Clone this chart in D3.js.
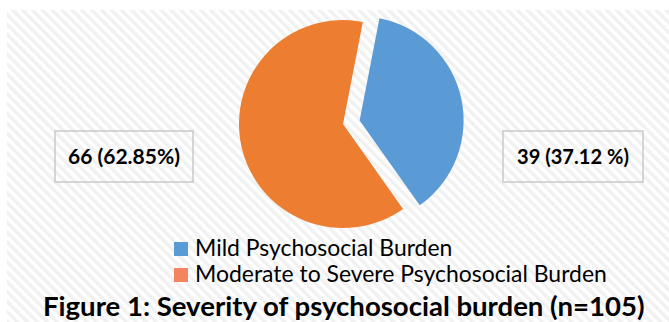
<!DOCTYPE html>
<html>
<head>
<meta charset="utf-8">
<script src="https://cdn.jsdelivr.net/npm/d3@7"></script>
<style>
  body { margin: 0; background: #fff; }
  text { font-family: Lato, "Open Sans", sans-serif; fill: #000; }
</style>
</head>
<body>
<div id="chart"></div>
<script>
// data
var categories = ["Mild Psychosocial Burden", "Moderate to Severe Psychosocial Burden"];
var counts = [39, 66];
var labels = ["39 (37.12 %)", "66 (62.85%)"];
var title = "Figure 1: Severity of psychosocial burden (n=105)";

var svgWidth = 669;
var svgHeight = 322;

var pieColors = ["#5b9bd5", "#ed7d31"];
var legendColors = ["#5b9bd5", "#f4845f"];

var svg = d3.select("#chart")
  .append("svg")
  .attr("width", svgWidth)
  .attr("height", svgHeight);

// diagonal striped backdrop
var defs = svg.append("defs");
var pat = defs.append("pattern")
  .attr("id", "stripes")
  .attr("patternUnits", "userSpaceOnUse")
  .attr("width", 7)
  .attr("height", 7)
  .attr("patternTransform", "rotate(-45)");
pat.append("rect").attr("width", 7).attr("height", 7).attr("fill", "#ffffff");
pat.append("rect").attr("width", 3.5).attr("height", 7).attr("fill", "#f1f1f1");

svg.append("rect")
  .attr("x", 7)
  .attr("y", 10)
  .attr("width", svgWidth - 7)
  .attr("height", svgHeight - 10)
  .attr("fill", "url(#stripes)");

// shrink or grow font so text hits a width
function fitText(sel, target) {
  var fs = parseFloat(sel.attr("font-size"));
  var w = sel.node().getComputedTextLength();
  sel.attr("font-size", fs * target / w);
}

// pie
var cx = 343, cy = 124, radius = 104, explode = 17;

var pie = d3.pie()
  .sort(null)
  .startAngle(11 * Math.PI / 180)
  .endAngle(11 * Math.PI / 180 + 2 * Math.PI);

var arc = d3.arc().innerRadius(0).outerRadius(radius);

var arcs = pie(counts);

var pieGroup = svg.append("g")
  .attr("transform", `translate(${cx}, ${cy})`);

pieGroup.selectAll("path")
  .data(arcs)
  .enter()
  .append("path")
  .attr("d", arc)
  .attr("fill", (d, i) => pieColors[i])
  .attr("transform", function(d, i) {
    if (i != 0) return null;
    var mid = (d.startAngle + d.endAngle) / 2;
    return `translate(${explode * Math.sin(mid)}, ${-explode * Math.cos(mid)})`;
  });

// label boxes
var boxes = [
  { x: 503, y: 131, w: 140, h: 51 },
  { x: 55, y: 131, w: 138, h: 51 }
];

boxes.forEach(function(b, i) {
  svg.append("rect")
    .attr("x", b.x)
    .attr("y", b.y)
    .attr("width", b.w)
    .attr("height", b.h)
    .attr("fill", "none")
    .attr("stroke", "#c9c9c9")
    .attr("stroke-width", 1.5);

  var t = svg.append("text")
    .attr("x", b.x + b.w / 2)
    .attr("y", 164)
    .attr("text-anchor", "middle")
    .attr("font-weight", "bold")
    .attr("font-size", 20)
    .text(labels[i]);
  fitText(t, 112);
});

// legend
var legendY = [242, 268];
var legendText = [];
categories.forEach(function(c, i) {
  svg.append("rect")
    .attr("x", 174)
    .attr("y", legendY[i])
    .attr("width", 14)
    .attr("height", 14)
    .attr("fill", legendColors[i]);

  legendText.push(svg.append("text")
    .attr("x", 195)
    .attr("y", legendY[i] + 14)
    .attr("font-size", 19)
    .text(c));
});
fitText(legendText[1], 412);
legendText[0].attr("font-size", legendText[1].attr("font-size"));

// title
var titleText = svg.append("text")
  .attr("x", 43)
  .attr("y", 316)
  .attr("font-weight", "bold")
  .attr("font-size", 25)
  .text(title);
fitText(titleText, 602);
</script>
</body>
</html>
